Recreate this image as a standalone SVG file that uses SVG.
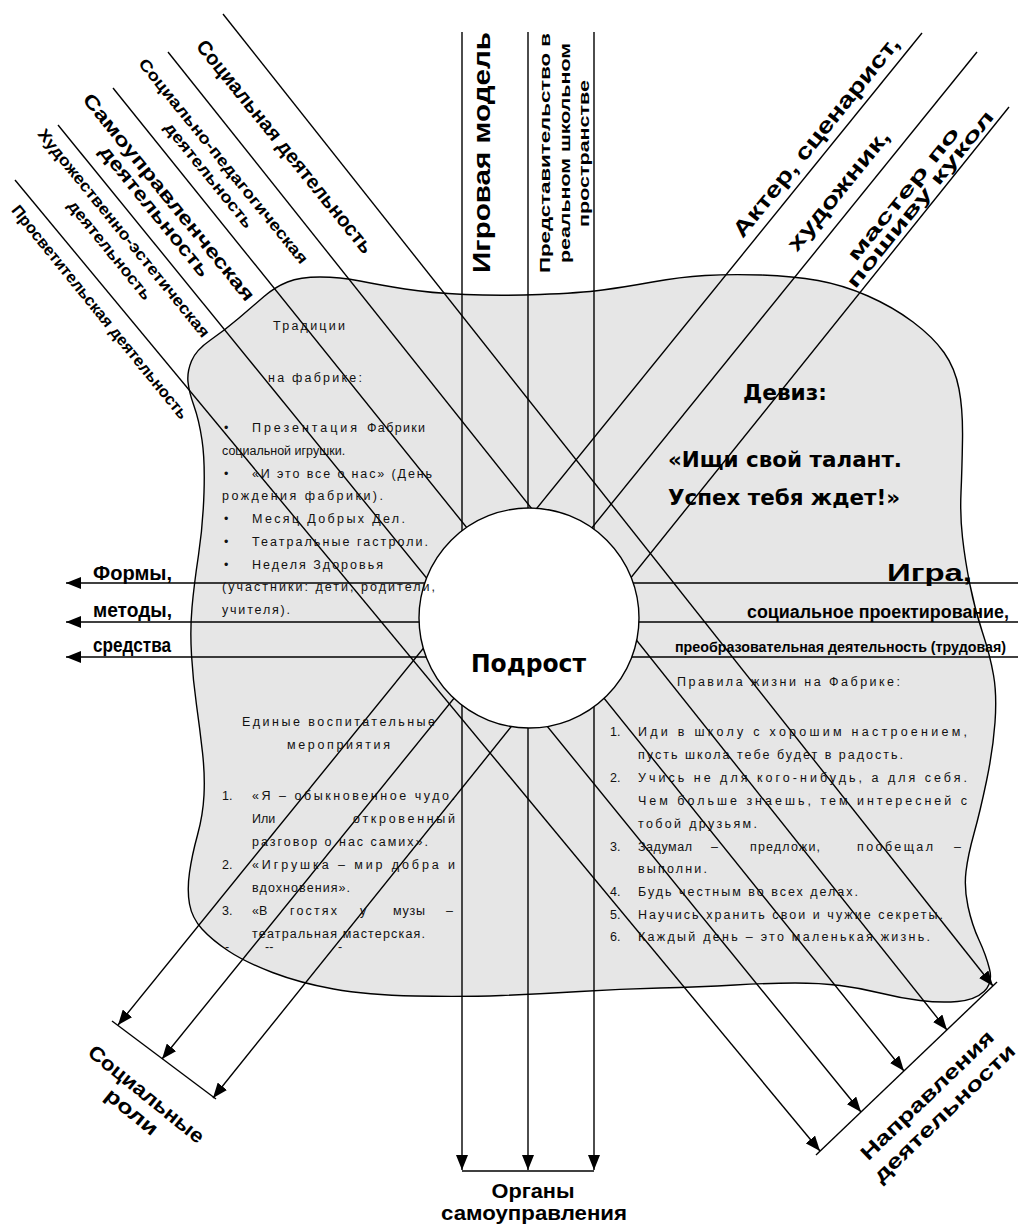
<svg xmlns="http://www.w3.org/2000/svg" width="1018" height="1227" viewBox="0 0 1018 1227">
<defs>
<marker id="ah" viewBox="0 0 15 12" refX="15" refY="6" markerWidth="15" markerHeight="12" markerUnits="userSpaceOnUse" orient="auto"><path d="M0,0 L15,6 L0,12 Z" fill="#000"/></marker>
<style>
.ln{stroke:#000;stroke-width:1.4;fill:none}
.ar{stroke:#000;stroke-width:1.4;fill:none;marker-end:url(#ah)}
.b{font-family:"Liberation Sans",Arial,sans-serif;font-weight:bold;fill:#000}
.t{font-family:"Liberation Sans",Arial,sans-serif;font-size:12.5px;fill:#111}
.d{font-family:"DejaVu Sans","Liberation Sans",sans-serif;font-weight:bold;fill:#000}
.m{text-anchor:middle}
</style>
</defs>
<rect width="1018" height="1227" fill="#fff"/>
<g id="blob">
<path d="M188,382 Q187,372 191.5,361 Q196,350 210.5,340 Q225,330 239,318 Q253,306 264,296.5 Q275,287 287.5,282 Q300,277 320,277 Q340,277 360,281 Q380,285 405,289 Q430,293 465,294.5 Q500,296 540,294.5 Q580,293 602.5,290 Q625,287 652.5,282 Q680,277 705,275.5 Q730,274 761.5,275 Q793,276 818,280.5 Q843,285 868,296 Q893,307 913,322 Q933,337 944,352.5 Q955,368 959,389 Q963,410 962.5,440 Q962,470 961,492.5 Q960,515 962.5,537.5 Q965,560 970,585 Q975,610 982.5,632.5 Q990,655 993.5,675 Q997,695 995,722.5 Q993,750 986.5,781 Q980,812 974,833.5 Q968,855 966,871.5 Q964,888 968,906.5 Q972,925 979,940 Q986,955 989.5,969 Q993,983 984,991.5 Q975,1000 957.5,1001.5 Q940,1003 920,1000.5 Q900,998 880,993 Q860,988 840,985.5 Q820,983 795,983 Q770,983 735,985 Q700,987 660,988 Q620,989 580,991.5 Q540,994 501.5,995.5 Q463,997 415,996 Q367,995 333.5,989 Q300,983 272.5,972.5 Q245,962 228.5,951 Q212,940 202,929 Q192,918 189.5,904 Q187,890 189.5,872.5 Q192,855 197.5,835 Q203,815 204,795 Q205,775 202.5,752.5 Q200,730 196.5,705 Q193,680 191.5,655 Q190,630 192,607.5 Q194,585 198.5,555 Q203,525 204,492.5 Q205,460 202,440 Q199,420 194,406 Q189,392 188,382 Z" fill="#e6e6e6" stroke="#000" stroke-width="1.4"/>
</g>
<g id="connectors">
<path class="ar" d="M462,32 V1170"/>
<path class="ar" d="M528,32 V1170"/>
<path class="ar" d="M594,32 V1170"/>
<path class="ln" d="M462,1171 H594"/>
<path class="ar" d="M1018,583 H66"/>
<path class="ar" d="M1018,622 H66"/>
<path class="ar" d="M1018,657 H66"/>
<path class="ar" d="M223,14 L993,986"/>
<path class="ar" d="M168,52 L947,1030"/>
<path class="ar" d="M113,88 L904,1071"/>
<path class="ar" d="M58,125 L861,1112"/>
<path class="ar" d="M15,180 L820,1151"/>
<path class="ln" d="M997,982 L816,1155"/>
<path class="ar" d="M922,33 L118,1025"/>
<path class="ar" d="M977,52 L162,1059"/>
<path class="ar" d="M1009,107 L213,1098"/>
<path class="ln" d="M112,1021 L216,1099"/>
</g>
<g id="center">
<circle cx="529" cy="618" r="110" fill="#fff" stroke="#000" stroke-width="1.4"/>
<text class="d m" x="528.5" y="672" font-size="25" textLength="115" lengthAdjust="spacingAndGlyphs">Подрост</text>
</g>
<g id="label-vertical">
<text class="b m" transform="translate(490,152.5) rotate(-90)" font-size="24" textLength="241" lengthAdjust="spacingAndGlyphs">Игровая модель</text>
<text class="b m" transform="translate(550,153) rotate(-90)" font-size="14" textLength="240" lengthAdjust="spacingAndGlyphs">Представительство в</text>
<text class="b m" transform="translate(570,153) rotate(-90)" font-size="14" textLength="220" lengthAdjust="spacingAndGlyphs">реальном школьном</text>
<text class="b m" transform="translate(589,153.5) rotate(-90)" font-size="14" textLength="147" lengthAdjust="spacingAndGlyphs">пространстве</text>
</g>
<g id="label-directions">
<text class="b m" transform="translate(285,146.5) rotate(51)" dy="0.35em" font-size="20" textLength="268" lengthAdjust="spacingAndGlyphs">Социальная деятельность</text>
<text class="b m" transform="translate(223.5,161) rotate(51)" dy="0.35em" font-size="16" textLength="259" lengthAdjust="spacingAndGlyphs">Социально-педагогическая</text>
<text class="b m" transform="translate(209,175) rotate(51)" dy="0.35em" font-size="16" textLength="131" lengthAdjust="spacingAndGlyphs">деятельность</text>
<text class="b m" transform="translate(169,197) rotate(51)" dy="0.35em" font-size="19" textLength="261" lengthAdjust="spacingAndGlyphs">Самоуправленческая</text>
<text class="b m" transform="translate(155,211) rotate(51)" dy="0.35em" font-size="19" textLength="163" lengthAdjust="spacingAndGlyphs">деятельность</text>
<text class="b m" transform="translate(124,233) rotate(51)" dy="0.35em" font-size="16" textLength="263" lengthAdjust="spacingAndGlyphs">Художественно-эстетическая</text>
<text class="b m" transform="translate(110,250) rotate(51)" dy="0.35em" font-size="16" textLength="123" lengthAdjust="spacingAndGlyphs">деятельность</text>
<text class="b m" transform="translate(100,312) rotate(51)" dy="0.35em" font-size="16" textLength="270" lengthAdjust="spacingAndGlyphs">Просветительская деятельность</text>
</g>
<g id="label-roles">
<text class="b m" transform="translate(815.8,136.5) rotate(-51)" dy="0.35em" font-size="22" textLength="251" lengthAdjust="spacingAndGlyphs">Актер, сценарист,</text>
<text class="b m" transform="translate(838,190) rotate(-51)" dy="0.35em" font-size="22" textLength="149" lengthAdjust="spacingAndGlyphs">художник,</text>
<text class="b m" transform="translate(903,193.5) rotate(-51)" dy="0.35em" font-size="19" textLength="166" lengthAdjust="spacingAndGlyphs">мастер по</text>
<text class="b m" transform="translate(920,199) rotate(-51)" dy="0.35em" font-size="19" textLength="222" lengthAdjust="spacingAndGlyphs">пошиву кукол</text>
</g>
<g id="label-social-roles">
<text class="b m" transform="translate(146.5,1094) rotate(39)" dy="0.35em" font-size="20" textLength="143" lengthAdjust="spacingAndGlyphs">Социальные</text>
<text class="b m" transform="translate(132,1111.5) rotate(39)" dy="0.35em" font-size="20" textLength="62" lengthAdjust="spacingAndGlyphs">роли</text>
</g>
<g id="label-activity">
<text class="b m" transform="translate(927,1095) rotate(-44)" dy="0.35em" font-size="20" textLength="177" lengthAdjust="spacingAndGlyphs">Направления</text>
<text class="b m" transform="translate(944,1113) rotate(-44)" dy="0.35em" font-size="20" textLength="189" lengthAdjust="spacingAndGlyphs">деятельности</text>
</g>
<g id="label-organs">
<text class="b m" x="533" y="1198" font-size="20" textLength="83" lengthAdjust="spacingAndGlyphs">Органы</text>
<text class="b m" x="534" y="1220" font-size="20" textLength="186" lengthAdjust="spacingAndGlyphs">самоуправления</text>
</g>
<g id="label-forms">
<text class="b" x="93" y="580" font-size="20" textLength="79" lengthAdjust="spacingAndGlyphs">Формы,</text>
<text class="b" x="93" y="617" font-size="20" textLength="79" lengthAdjust="spacingAndGlyphs">методы,</text>
<text class="b" x="93" y="652" font-size="20" textLength="78" lengthAdjust="spacingAndGlyphs">средства</text>
</g>
<g id="label-game">
<text class="b" x="887" y="581" font-size="23" textLength="85" lengthAdjust="spacingAndGlyphs">Игра,</text>
<text class="b" x="747" y="618" font-size="18" textLength="262" lengthAdjust="spacingAndGlyphs">социальное проектирование,</text>
<text class="b" x="675" y="652" font-size="15" textLength="331" lengthAdjust="spacingAndGlyphs">преобразовательная деятельность (трудовая)</text>
</g>
<g id="motto">
<text class="d m" x="785" y="400" font-size="21" textLength="84" lengthAdjust="spacingAndGlyphs">Девиз:</text>
<text class="d m" x="785" y="467" font-size="21" textLength="234" lengthAdjust="spacingAndGlyphs">«Ищи свой талант.</text>
<text class="d m" x="784" y="505" font-size="21" textLength="232" lengthAdjust="spacingAndGlyphs">Успех тебя ждет!»</text>
</g>
<g id="traditions">
<text class="t m" x="309" y="330" textLength="72" lengthAdjust="spacing">Традиции</text>
<text class="t m" x="315" y="382" textLength="94" lengthAdjust="spacing">на фабрике:</text>
<text class="t" x="224" y="432">•</text>
<text class="t" x="252" y="432" textLength="105" lengthAdjust="spacing">Презентация</text>
<text class="t" x="367" y="432" textLength="58" lengthAdjust="spacing">Фабрики</text>
<text class="t" x="222" y="455">социальной игрушки.</text>
<text class="t" x="224" y="478">•</text>
<text class="t" x="252" y="478" textLength="180" lengthAdjust="spacing">«И это все о нас» (День</text>
<text class="t" x="222" y="500" textLength="161" lengthAdjust="spacing">рождения фабрики).</text>
<text class="t" x="224" y="523">•</text>
<text class="t" x="252" y="523" textLength="153" lengthAdjust="spacing">Месяц Добрых Дел.</text>
<text class="t" x="224" y="546">•</text>
<text class="t" x="252" y="546" textLength="176" lengthAdjust="spacing">Театральные гастроли.</text>
<text class="t" x="224" y="569">•</text>
<text class="t" x="252" y="569" textLength="131" lengthAdjust="spacing">Неделя Здоровья</text>
<text class="t" x="222" y="591" textLength="213" lengthAdjust="spacing">(участники: дети, родители,</text>
<text class="t" x="222" y="614" textLength="68" lengthAdjust="spacing">учителя).</text>
</g>
<g id="events">
<text class="t" x="242" y="726" textLength="193" lengthAdjust="spacing">Единые воспитательные</text>
<text class="t m" x="338.5" y="749" textLength="103" lengthAdjust="spacing">мероприятия</text>
<text class="t" x="222" y="800">1.</text>
<text class="t" x="252" y="800" textLength="203" lengthAdjust="spacing">«Я – обыкновенное чудо.</text>
<text class="t" x="252" y="823">Или</text>
<text class="t" x="353" y="823" textLength="102" lengthAdjust="spacing">откровенный</text>
<text class="t" x="252" y="846" textLength="176" lengthAdjust="spacing">разговор о нас самих».</text>
<text class="t" x="222" y="869">2.</text>
<text class="t" x="252" y="869" textLength="203" lengthAdjust="spacing">«Игрушка – мир добра и</text>
<text class="t" x="252" y="892" textLength="98" lengthAdjust="spacing">вдохновения».</text>
<text class="t" x="222" y="915">3.</text>
<text class="t" x="252" y="915">«В</text>
<text class="t" x="290" y="915" textLength="47" lengthAdjust="spacing">гостях</text>
<text class="t" x="360" y="915">у</text>
<text class="t" x="393" y="915" textLength="32" lengthAdjust="spacing">музы</text>
<text class="t" x="446" y="915">–</text>
<text class="t" x="252" y="938" textLength="173" lengthAdjust="spacing">театральная мастерская.</text>
<text class="t" x="225" y="951" font-size="9">-</text>
<text class="t" x="265" y="951" font-size="9">--</text>
<text class="t" x="338" y="951" font-size="9">-</text>
</g>
<g id="rules">
<text class="t" x="677" y="686" textLength="223" lengthAdjust="spacing">Правила жизни на Фабрике:</text>
<text class="t" x="610" y="736">1.</text>
<text class="t" x="638" y="736" textLength="329" lengthAdjust="spacing">Иди в школу с хорошим настроением,</text>
<text class="t" x="638" y="759" textLength="265" lengthAdjust="spacing">пусть школа тебе будет в радость.</text>
<text class="t" x="610" y="782">2.</text>
<text class="t" x="638" y="782" textLength="329" lengthAdjust="spacing">Учись не для кого-нибудь, а для себя.</text>
<text class="t" x="638" y="805" textLength="329" lengthAdjust="spacing">Чем больше знаешь, тем интересней с</text>
<text class="t" x="638" y="828" textLength="119" lengthAdjust="spacing">тобой друзьям.</text>
<text class="t" x="610" y="851">3.</text>
<text class="t" x="638" y="851" textLength="54" lengthAdjust="spacing">Задумал</text>
<text class="t" x="711" y="851">–</text>
<text class="t" x="750" y="851" textLength="70" lengthAdjust="spacing">предложи,</text>
<text class="t" x="857" y="851" textLength="76" lengthAdjust="spacing">пообещал</text>
<text class="t" x="954" y="851">–</text>
<text class="t" x="638" y="873" textLength="69" lengthAdjust="spacing">выполни.</text>
<text class="t" x="610" y="896">4.</text>
<text class="t" x="638" y="896" textLength="220" lengthAdjust="spacing">Будь честным во всех делах.</text>
<text class="t" x="610" y="919">5.</text>
<text class="t" x="638" y="919" textLength="305" lengthAdjust="spacing">Научись хранить свои и чужие секреты.</text>
<text class="t" x="610" y="941">6.</text>
<text class="t" x="638" y="941" textLength="292" lengthAdjust="spacing">Каждый день – это маленькая жизнь.</text>
</g>
</svg>
